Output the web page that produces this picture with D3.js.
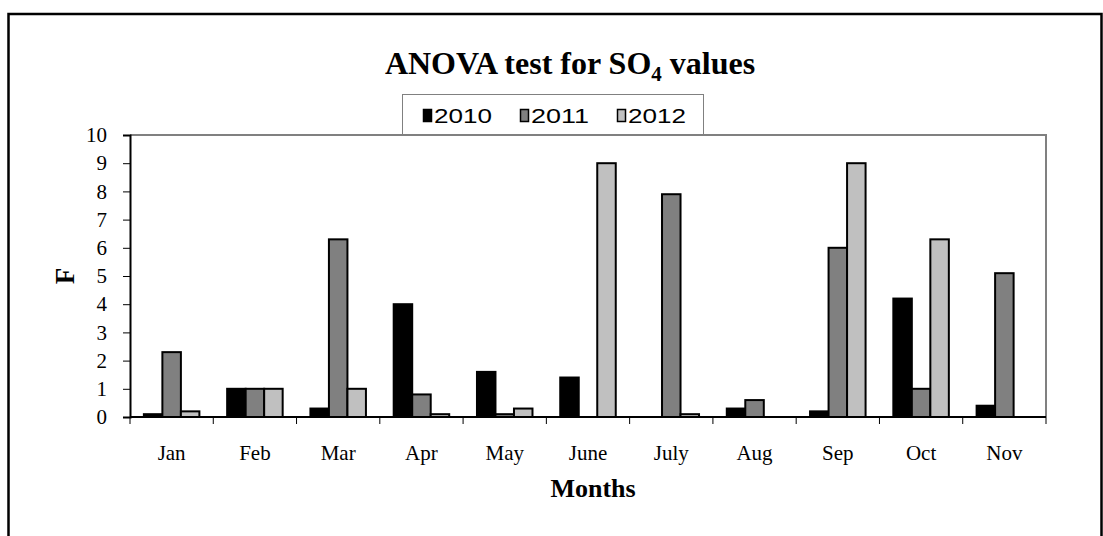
<!DOCTYPE html>
<html>
<head>
<meta charset="utf-8">
<script src="https://cdn.jsdelivr.net/npm/d3@7"></script>
<style>
  body { margin: 0; background: #fff; }
  svg { display: block; }
</style>
</head>
<body>
<svg width="1103" height="536"></svg>
<script>
const svg = d3.select('svg');

// the data
const months = ['Jan', 'Feb', 'Mar', 'Apr', 'May', 'June', 'July', 'Aug', 'Sep', 'Oct', 'Nov'];
const years = ['2010', '2011', '2012'];
const values2010 = [0.1, 1.0, 0.3, 4.0, 1.6, 1.4, 0, 0.3, 0.2, 4.2, 0.4];
const values2011 = [2.3, 1.0, 6.3, 0.8, 0.1, 0, 7.9, 0.6, 6.0, 1.0, 5.1];
const values2012 = [0.2, 1.0, 1.0, 0.1, 0.3, 9.0, 0.1, 0, 9.0, 6.3, 0];
const yTicks = [0, 1, 2, 3, 4, 5, 6, 7, 8, 9, 10];

const seriesValues = { 2010: values2010, 2011: values2011, 2012: values2012 };
const colors = { 2010: '#000000', 2011: '#808080', 2012: '#c0c0c0' };

// plot area
const plot = { left: 130, right: 1046, top: 135, bottom: 417 };

// outer chart border
svg.append('rect')
  .attr('x', 8.5)
  .attr('y', 14)
  .attr('width', 1093)
  .attr('height', 600)
  .attr('fill', 'none')
  .attr('stroke', '#000')
  .attr('stroke-width', 2.5);

const x0 = d3.scaleBand().domain(months).range([plot.left, plot.right]).padding(0);
const bw = x0.bandwidth();
const barW = bw / 4.5; // excel gap width 150%
const x1 = d3.scaleBand().domain(years).range([barW * 0.75, bw - barW * 0.75]).padding(0);
const y = d3.scaleLinear().domain([0, 10]).range([plot.bottom, plot.top]);

// top and right border of plot area
svg.append('path')
  .attr('d', `M${plot.left},${plot.top}H${plot.right}V${plot.bottom}`)
  .attr('fill', 'none')
  .attr('stroke', '#808080')
  .attr('stroke-width', 2);

// bars
const rows = months.map((m, i) => ({
  month: m,
  bars: years.map(yr => ({ year: yr, value: seriesValues[yr][i] }))
}));

const groups = svg.append('g')
  .selectAll('g')
  .data(rows)
  .join('g')
  .attr('transform', d => `translate(${x0(d.month)},0)`);

groups.selectAll('rect')
  .data(d => d.bars)
  .join('rect')
  .attr('x', d => x1(d.year))
  .attr('y', d => y(d.value))
  .attr('width', x1.bandwidth())
  .attr('height', d => y(0) - y(d.value))
  .attr('fill', d => colors[d.year])
  .attr('stroke', '#000')
  .attr('stroke-width', 2);

// y axis
const yAxis = svg.append('g')
  .attr('transform', `translate(${plot.left},0)`)
  .call(d3.axisLeft(y).tickValues(yTicks).tickFormat(d3.format('d')).tickSize(7).tickPadding(16));
yAxis.select('.domain').attr('stroke', '#000').attr('stroke-width', 2);
yAxis.selectAll('.tick line').attr('stroke', '#000').attr('stroke-width', 1);
yAxis.selectAll('text')
  .attr('font-family', '"Liberation Serif", "Times New Roman", serif')
  .attr('font-size', 21)
  .attr('fill', '#000');

// x axis: ticks at category boundaries
const xAxis = svg.append('g')
  .attr('transform', `translate(0,${plot.bottom})`);
xAxis.append('line')
  .attr('x1', plot.left).attr('x2', plot.right)
  .attr('stroke', '#000').attr('stroke-width', 2);
const boundaries = months.map(m => x0(m)).concat([plot.right]);
xAxis.selectAll('line.tick')
  .data(boundaries)
  .join('line')
  .attr('class', 'tick')
  .attr('x1', d => d).attr('x2', d => d)
  .attr('y1', 0).attr('y2', 7)
  .attr('stroke', '#000')
  .attr('stroke-width', 1);
xAxis.selectAll('text')
  .data(months)
  .join('text')
  .attr('x', d => x0(d) + bw / 2)
  .attr('y', 43)
  .attr('text-anchor', 'middle')
  .attr('font-family', '"Liberation Serif", "Times New Roman", serif')
  .attr('font-size', 21)
  .text(d => d);

// axis titles
svg.append('text')
  .attr('x', 593)
  .attr('y', 497)
  .attr('text-anchor', 'middle')
  .attr('font-family', '"Liberation Serif", "Times New Roman", serif')
  .attr('font-weight', 'bold')
  .attr('font-size', 26)
  .text('Months');

svg.append('text')
  .attr('transform', 'translate(74,276) rotate(-90)')
  .attr('text-anchor', 'middle')
  .attr('font-family', '"Liberation Serif", "Times New Roman", serif')
  .attr('font-weight', 'bold')
  .attr('font-size', 27)
  .text('F');

// chart title
const title = svg.append('text')
  .attr('x', 570)
  .attr('y', 74)
  .attr('text-anchor', 'middle')
  .attr('font-family', '"Liberation Serif", "Times New Roman", serif')
  .attr('font-weight', 'bold')
  .attr('font-size', 32);
title.append('tspan').text('ANOVA test for SO');
title.append('tspan').attr('font-size', 21).attr('dy', 7).text('4');
title.append('tspan').attr('dy', -7).text(' values');

// legend
const legend = svg.append('g');
legend.append('rect')
  .attr('x', 402.5)
  .attr('y', 94.5)
  .attr('width', 301)
  .attr('height', 40)
  .attr('fill', '#fff')
  .attr('stroke', '#808080')
  .attr('stroke-width', 1);

const legendX = d3.scalePoint().domain(years).range([423, 617]);
const items = legend.selectAll('g.item')
  .data(years)
  .join('g')
  .attr('class', 'item')
  .attr('transform', d => `translate(${legendX(d)},0)`);
items.append('rect')
  .attr('x', 0.5)
  .attr('y', 109.5)
  .attr('width', 8)
  .attr('height', 12)
  .attr('fill', d => colors[d])
  .attr('stroke', '#000')
  .attr('stroke-width', 1.5);
items.append('text')
  .attr('x', 11)
  .attr('y', 123)
  .attr('font-family', '"Liberation Sans", Arial, sans-serif')
  .attr('font-size', 21)
  .attr('textLength', 58)
  .attr('lengthAdjust', 'spacingAndGlyphs')
  .text(d => d);
</script>
</body>
</html>
